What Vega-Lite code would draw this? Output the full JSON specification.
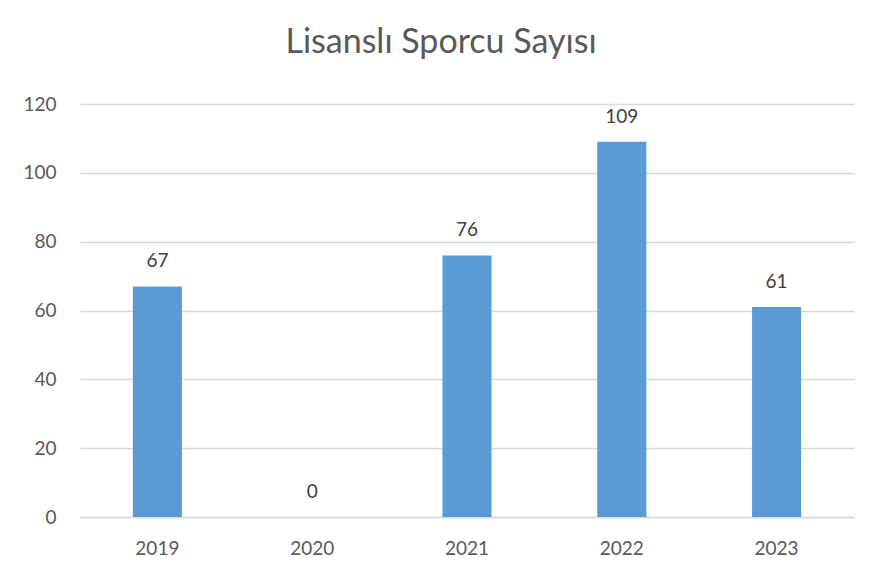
{
  "$schema": "https://vega.github.io/schema/vega-lite/v6.json",
  "width": 774,
  "height": 413,
  "autosize": {"type": "none"},
  "padding": {"left": 80, "top": 104, "right": 18, "bottom": 64},
  "background": "white",
  "config": {
    "font": "Lato",
    "view": {"stroke": null}
  },
  "title": {
    "text": "Lisanslı Sporcu Sayısı",
    "fontSize": 34,
    "font": "Lato",
    "fontWeight": "normal",
    "color": "#595959",
    "anchor": "middle",
    "offset": 35,
    "dx": -26
  },
  "data": {
    "values": [
      {"year": "2019", "count": 67},
      {"year": "2020", "count": 0},
      {"year": "2021", "count": 76},
      {"year": "2022", "count": 109},
      {"year": "2023", "count": 61}
    ]
  },
  "encoding": {
    "x": {
      "field": "year",
      "type": "ordinal",
      "scale": {"paddingInner": 0.683, "paddingOuter": 0.3415},
      "axis": {
        "title": null,
        "labelAngle": 0,
        "labelFontSize": 19,
        "labelColor": "#595959",
        "labelPadding": 22,
        "ticks": false,
        "domainColor": "#d9d9d9",
        "domainWidth": 1.5
      }
    },
    "y": {
      "field": "count",
      "type": "quantitative",
      "scale": {"domain": [0, 120]},
      "axis": {
        "title": null,
        "values": [0, 20, 40, 60, 80, 100, 120],
        "labelFontSize": 19,
        "labelColor": "#595959",
        "labelPadding": 24,
        "ticks": false,
        "domain": false,
        "gridColor": "#d9d9d9",
        "gridWidth": 1.5
      }
    }
  },
  "layer": [
    {"mark": {"type": "bar", "color": "#5B9BD5"}},
    {
      "mark": {"type": "text", "baseline": "bottom", "dy": -15, "fontSize": 19, "color": "#404040"},
      "encoding": {"text": {"field": "count", "type": "quantitative"}}
    }
  ]
}
